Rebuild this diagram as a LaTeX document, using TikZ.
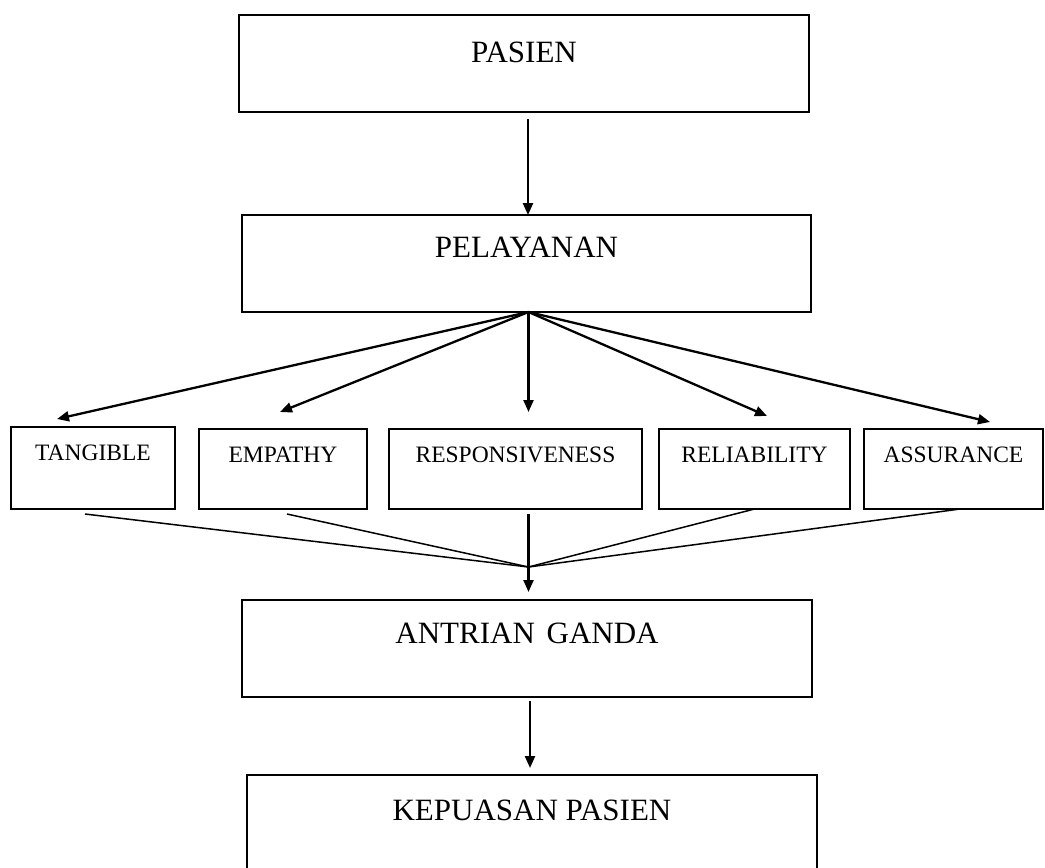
\documentclass[tikz,border=0pt]{standalone}
\usepackage{fontspec}
\setmainfont{Liberation Serif}
\usetikzlibrary{arrows.meta}

\tikzset{
    box/.style={draw, line width=1.7pt, inner sep=0pt, outer sep=0pt, anchor=north west},
    bigbox/.style={box, font=\fontsize{31}{36}\selectfont, minimum width=570pt},
    dimbox/.style={box, font=\fontsize{23.5}{28}\selectfont, text height=33pt, text depth=47pt},
    arr/.style={line width=2.3pt, -{Triangle[length=12pt,width=10pt]}},
    mergeln/.style={line width=1.5pt},
}

\begin{document}
\begin{tikzpicture}[x=1pt, y=-1pt]
    \useasboundingbox (0,0) rectangle (1045,868);
    %
    \node[bigbox, text height=47pt, text depth=50pt] (pasien) at (239,15) {PASIEN};
    \node[bigbox, text height=42pt, text depth=55pt, minimum width=569pt] (pelayanan) at (242,215) {PELAYANAN};
    %
    \node[dimbox, minimum width=164pt, text depth=49pt] (tangible) at (11,427) {TANGIBLE};
    \node[dimbox, minimum width=168pt] (empathy) at (199,429) {EMPATHY};
    \node[dimbox, minimum width=253pt] (respon)  at (389,429) {RESPONSIVENESS};
    \node[dimbox, minimum width=191pt] (reliab)  at (659,429) {RELIABILITY};
    \node[dimbox, minimum width=179pt] (assur)   at (864,429) {ASSURANCE};
    %
    \node[bigbox, text height=43pt, text depth=54pt] (antrian) at (242,600) {ANTRIAN\hspace{4pt} GANDA};
    \node[bigbox, text height=45pt, text depth=55pt] (kepuasan) at (247,775) {KEPUASAN PASIEN};
    %
    \coordinate (fan) at ([xshift=2pt]pelayanan.south);
    \coordinate (merge) at ([xshift=13pt,yshift=-58pt]respon.south);
    %
    \draw[arr] ([xshift=4pt,yshift=-7pt]pasien.south) -- ([xshift=1.5pt]pelayanan.north);
    \draw[arr] (fan) -- ([xshift=-36pt,yshift=8pt]tangible.north);
    \draw[arr] (fan) -- ([xshift=-3pt,yshift=17pt]empathy.north);
    \draw[arr] (fan) -- ([xshift=13pt,yshift=17pt]respon.north);
    \draw[arr] (fan) -- ([xshift=12.5pt,yshift=13pt]reliab.north);
    \draw[arr] (fan) -- ([xshift=36.5pt,yshift=7pt]assur.north);
    %
    \draw[mergeln] ([xshift=-8pt,yshift=-5pt]tangible.south) -- (merge);
    \draw[mergeln] ([xshift=4pt,yshift=-5pt]empathy.south) -- (merge);
    \draw[mergeln] (reliab.south) -- (merge);
    \draw[mergeln] ([xshift=6.5pt]assur.south) -- (merge);
    \draw[arr] ([xshift=13pt,yshift=-5pt]respon.south) -- ([xshift=1.5pt,yshift=8pt]antrian.north);
    \draw[arr] ([xshift=3pt,yshift=-4pt]antrian.south) -- ([xshift=-2pt,yshift=7pt]kepuasan.north);
\end{tikzpicture}
\end{document}
